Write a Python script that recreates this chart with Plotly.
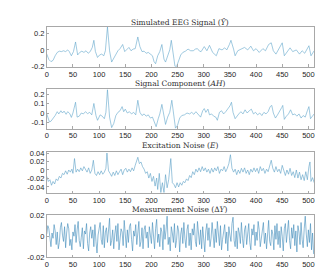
import plotly.graph_objects as go

# ---------------- data ----------------
y_hat_n = [0, 4, 8, 12, 16, 20, 24, 28, 32, 36, 40, 43, 47, 51, 55, 59, 63, 67, 71, 75, 79, 83, 87, 90, 93, 97,
           101, 105, 109, 112, 116, 120, 124, 128, 132, 136, 140, 145, 149, 153, 157, 161, 165, 169, 174, 178,
           182, 186, 190, 194, 198, 202, 205, 208, 212, 216, 220, 224, 227, 231, 235, 238, 242, 245, 248, 252,
           256, 260, 265, 270, 275, 280, 284, 288, 292, 295, 301, 306, 311, 317, 324, 329, 335, 340, 344, 349,
           352, 357, 360, 365, 371, 378, 384, 390, 395, 400, 406, 413, 418, 424, 429, 433, 438, 444, 450, 454,
           458, 465, 470, 477, 483, 488, 493, 499, 501, 505, 511]
y_hat_v = [-0.05, -0.115, -0.14, -0.125, -0.07, -0.03, -0.015, -0.02, -0.01, -0.02, 0.0, -0.02, -0.07, -0.02,
           0.095, -0.06, -0.03, -0.015, -0.03, -0.01, -0.04, -0.02, 0.03, 0.115, -0.02, -0.09, -0.06, -0.05,
           -0.07, -0.01, 0.275, -0.01, -0.145, -0.10, -0.04, -0.01, 0.015, 0.065, -0.02, 0.01, 0.03, -0.01,
           0.01, 0.015, 0.155, 0.04, -0.02, -0.015, -0.04, -0.03, -0.05, -0.07, -0.14, -0.165, -0.07, -0.02,
           0.065, -0.11, -0.145, -0.07, 0.0, 0.115, -0.09, -0.195, -0.2, -0.125, -0.06, -0.03, -0.015, 0.01,
           -0.01, -0.01, 0.01, 0.015, -0.015, -0.02, 0.04, -0.01, 0.055, -0.03, -0.07, 0.015, 0.0, 0.025, 0.0,
           0.065, 0.115, 0.01, -0.07, -0.01, 0.01, 0.03, 0.0, 0.045, -0.01, 0.015, -0.03, 0.015, -0.01, 0.065,
           0.085, -0.01, -0.05, 0.01, 0.085, -0.07, -0.03, 0.025, -0.02, 0.0, -0.05, -0.01, -0.04, 0.025, 0.05,
           -0.07, -0.01]

ah_n = [0, 5, 8, 12, 16, 20, 23, 27, 30, 33, 37, 40, 44, 47, 50, 55, 58, 62, 66, 70, 74, 78, 82, 86, 90, 94, 97,
        102, 106, 110, 113, 116, 120, 124, 128, 132, 136, 140, 144, 147, 150, 154, 158, 162, 166, 170, 174, 178,
        182, 186, 190, 194, 198, 202, 206, 209, 213, 216, 220, 224, 227, 231, 235, 239, 243, 246, 250, 254, 258,
        263, 268, 273, 277, 281, 285, 290, 294, 298, 301, 304, 308, 311, 315, 319, 323, 326, 330, 334, 338, 342,
        346, 350, 353, 356, 360, 363, 367, 371, 375, 379, 383, 387, 391, 395, 399, 403, 407, 411, 415, 419, 423,
        427, 430, 433, 437, 441, 445, 449, 451, 454, 458, 462, 466, 470, 474, 478, 482, 486, 490, 494, 498, 501,
        504, 507, 511]
ah_v = [-0.01, -0.095, -0.088, -0.061, -0.027, 0.014, -0.01, 0.024, 0.0, 0.02, -0.014, 0.014, -0.007, -0.047, 0.0,
        0.115, -0.044, -0.034, 0.0, -0.01, 0.014, -0.007, 0.007, -0.02, 0.102, -0.027, -0.078, -0.02, -0.034,
        -0.061, 0.007, 0.25, -0.044, -0.156, -0.112, -0.027, 0.007, 0.024, 0.068, 0.014, 0.041, 0.0, 0.014,
        -0.01, 0.007, -0.02, 0.136, 0.007, -0.027, -0.01, -0.034, -0.02, -0.054, -0.044, -0.095, -0.146, -0.061,
        -0.01, 0.092, -0.061, -0.122, -0.044, 0.007, 0.136, -0.078, -0.163, -0.129, -0.054, -0.027, -0.02, 0.0,
        -0.01, 0.007, -0.014, 0.014, -0.02, -0.044, 0.024, 0.047, 0.007, 0.041, -0.02, -0.01, -0.034, -0.044,
        -0.078, 0.007, 0.024, -0.01, 0.014, 0.041, 0.075, 0.115, 0.007, -0.061, -0.034, -0.01, 0.014, -0.01,
        0.034, 0.0, 0.024, 0.041, -0.01, 0.007, -0.02, 0.0, -0.027, 0.007, -0.01, 0.014, 0.068, 0.081, 0.0,
        -0.054, -0.02, 0.014, 0.058, 0.081, -0.068, -0.034, -0.01, 0.034, -0.02, -0.01, -0.034, -0.01, -0.054,
        -0.027, -0.044, 0.024, 0.068, -0.061, -0.034, -0.01]

e_n = [0, 3, 6, 9, 12, 15, 18, 21, 24, 27, 30, 33, 36, 39, 42, 45, 48, 50, 53, 56, 59, 62, 65, 68, 71, 74, 77, 80,
       83, 86, 89, 92, 95, 98, 101, 104, 107, 110, 113, 115, 118, 121, 124, 127, 130, 133, 136, 139, 142, 145, 148,
       151, 154, 157, 160, 163, 166, 169, 172, 174, 177, 180, 183, 186, 189, 192, 195, 198, 201, 204, 207, 210,
       212, 215, 218, 221, 224, 227, 230, 233, 237, 240, 243, 246, 249, 252, 255, 258, 261, 264, 267, 270, 273,
       276, 279, 282, 285, 288, 291, 294, 297, 300, 303, 306, 309, 312, 315, 318, 321, 324, 327, 330, 333, 336,
       339, 342, 345, 348, 351, 354, 357, 360, 363, 366, 369, 372, 375, 378, 381, 384, 387, 390, 393, 396, 399,
       402, 405, 408, 411, 414, 417, 420, 423, 426, 429, 432, 435, 438, 441, 444, 447, 450, 453, 456, 459, 462,
       465, 468, 471, 474, 477, 480, 483, 486, 489, 492, 495, 498, 501, 503, 505, 508, 511]
e_v = [-0.015, -0.027, -0.023, -0.036, -0.027, -0.033, -0.021, -0.025, -0.015, -0.019, -0.008, -0.011, -0.002,
       -0.010, 0.0, -0.005, 0.002, -0.008, 0.027, -0.005, 0.002, -0.004, 0.005, -0.002, 0.008, 0.0, -0.005, 0.005,
       -0.008, 0.0, 0.023, -0.008, -0.013, -0.004, -0.011, -0.002, -0.010, -0.005, 0.004, 0.040, -0.002, -0.008,
       -0.015, -0.005, -0.013, -0.002, -0.011, -0.004, 0.002, -0.011, 0.0, 0.004, -0.005, 0.002, -0.004, 0.005,
       -0.002, 0.011, 0.027, 0.030, 0.015, 0.019, 0.008, 0.002, -0.008, -0.004, -0.019, -0.008, -0.027, -0.015,
       -0.038, -0.019, -0.046, -0.008, -0.053, -0.030, -0.053, -0.011, -0.042, -0.023, 0.027, -0.030, -0.034,
       -0.042, -0.030, -0.040, -0.030, -0.036, -0.027, -0.030, -0.021, -0.025, -0.013, -0.018, -0.004, -0.011,
       0.002, -0.005, 0.005, -0.004, 0.008, -0.002, 0.005, -0.005, 0.002, -0.008, 0.004, -0.005, 0.005, -0.002,
       0.008, -0.008, 0.002, -0.002, 0.008, -0.004, 0.004, 0.015, 0.036, 0.004, -0.005, 0.002, -0.011, 0.0,
       -0.008, 0.004, -0.005, 0.005, -0.008, 0.0, -0.011, 0.002, -0.005, 0.005, -0.004, 0.004, -0.008, 0.008,
       -0.002, 0.004, -0.008, 0.002, -0.004, 0.011, 0.023, 0.004, -0.005, 0.008, -0.004, 0.002, -0.008, 0.011,
       -0.002, -0.013, 0.0, -0.010, 0.004, -0.013, -0.004, -0.018, 0.0, -0.019, -0.005, -0.023, -0.011, -0.025,
       -0.004, -0.023, 0.008, 0.019, -0.027, -0.018, -0.030]

dy_v = [0.002, 0.010, 0.007, -0.004, -0.010, 0.003, -0.002, 0.011, 0.005, -0.008, 0.004, -0.012, -0.006, 0.008, 0.013, 0.001,
        -0.005, 0.009, -0.011, 0.003, 0.012, 0.007, -0.009, -0.003, -0.013, 0.004, 0.000, 0.011, -0.006, 0.006, 0.014, -0.004,
        -0.010, -0.001, 0.008, -0.012, 0.005, 0.002, 0.012, -0.007, -0.014, 0.003, 0.009, -0.002, 0.006, -0.010, 0.011, -0.005,
        -0.016, 0.001, 0.007, 0.013, -0.003, -0.008, 0.010, -0.011, 0.004, 0.008, -0.006, 0.003, 0.017, -0.009, -0.004, 0.006,
        -0.012, 0.002, 0.010, -0.005, 0.012, -0.013, -0.002, 0.007, 0.004, -0.009, 0.015, 0.001, -0.011, 0.006, -0.006, 0.009,
        0.012, -0.003, -0.014, 0.005, 0.000, 0.011, -0.008, 0.003, 0.014, -0.010, -0.005, 0.008, -0.012, 0.006, 0.010, -0.002,
        0.004, -0.011, 0.009, 0.001, -0.007, 0.013, -0.004, -0.012, 0.007, 0.016, -0.006, 0.002, -0.010, 0.008, 0.004, -0.013,
        0.011, -0.003, 0.006, 0.019, -0.008, -0.001, -0.014, 0.009, 0.003, -0.006, 0.012, -0.011, -0.004, 0.010, 0.005, -0.015,
        0.002, 0.008, -0.007, 0.013, -0.002, -0.011, 0.006, 0.011, -0.009, 0.003, -0.013, 0.007, 0.001, 0.012, -0.005, -0.010,
        0.014, 0.004, -0.008, 0.006, -0.012, 0.009, 0.000, -0.015, 0.005, 0.012, -0.004, 0.008, -0.010, -0.002, 0.013, 0.003,
        -0.011, 0.007, -0.006, 0.014, 0.002, -0.009, 0.010, -0.013, -0.003, 0.006, 0.011, -0.007, 0.004, -0.014, 0.009, 0.001,
        -0.005, 0.012, 0.018, -0.004, -0.010, 0.005, -0.012, 0.008, 0.003, -0.007, 0.013, -0.002, -0.011, 0.006, 0.010, -0.008,
        0.002, 0.012, -0.006, -0.013, 0.007, 0.001, 0.011, -0.009, 0.004, -0.004, 0.014, 0.006, -0.010, -0.001, 0.009, 0.013,
        -0.007, 0.003, -0.012, 0.008, 0.015, -0.005, -0.009, 0.006, 0.002, -0.013, 0.010, -0.003, 0.012, -0.008, 0.005, -0.011,
        0.009, 0.000, -0.014, 0.007, 0.012, -0.006, 0.003, 0.015, -0.004, -0.012, 0.008, -0.002, 0.011, -0.009, 0.005, -0.015,
        0.010, 0.004, -0.008, 0.013, -0.003, -0.011, 0.007, 0.019, 0.002, -0.010, 0.006, -0.006, 0.012, -0.013, 0.003, -0.017]
dy_n = list(range(0, 512, 2))[:len(dy_v)]
dy_v = dy_v[:len(dy_n)]

titles = ["Simulated EEG Signal (<i>Ŷ</i>)", "Signal Component (<i>AH</i>)",
          "Excitation Noise (<i>E</i>)", "Measurement Noise (Δ<i>Y</i>)"]
x_ticks = [0, 50, 100, 150, 200, 250, 300, 350, 400, 450, 500]
y_ticks = [[-0.2, 0, 0.2], [-0.1, 0, 0.1, 0.2], [-0.04, -0.02, 0, 0.02, 0.04], [-0.02, 0, 0.02]]
y_ticktext = [["-0.2", "0", "0.2"], ["-0.1", "0", "0.1", "0.2"],
              ["-0.04", "-0.02", "0", "0.02", "0.04"], ["-0.02", "0", "0.02"]]
y_ranges = [[-0.2, 0.28], [-0.166, 0.252], [-0.054, 0.043], [-0.02, 0.02]]

# ---------------- figure ----------------
W, H = 330, 275
series = [(y_hat_n, y_hat_v), (ah_n, ah_v), (e_n, e_v), (dy_n, dy_v)]
dom_px = [(15, 56.5), (80, 120.5), (144.5, 187), (210, 253.5)]
title_px = [10.5, 74, 138.5, 204]
line_colors = ["#62a6cb", "#62a6cb", "#5a9fc6", "#3f8cbb"]
line_widths = [0.6, 0.6, 0.6, 0.6]

fig = go.Figure()
for i, (xs, ys) in enumerate(series):
    k = "" if i == 0 else str(i + 1)
    fig.add_trace(go.Scatter(x=xs, y=ys, mode="lines", xaxis="x" + k, yaxis="y" + k,
                             line=dict(color=line_colors[i], width=line_widths[i]), showlegend=False,
                             hoverinfo="skip"))
    top, bot = dom_px[i]
    axstyle = dict(showline=True, mirror=True, linecolor="#a8a8a8", linewidth=0.7,
                   ticks="inside", ticklen=2.5, tickcolor="#a8a8a8", tickwidth=0.7,
                   showgrid=False, zeroline=False,
                   tickfont=dict(family="Liberation Sans, Arial, sans-serif", size=7.5, color="#262626"))
    fig.update_layout(**{
        "xaxis" + k: dict(domain=[37 / W, 306 / W], range=[0, 511], tickvals=x_ticks,
                          anchor="y" + k, **axstyle),
        "yaxis" + k: dict(domain=[1 - bot / H, 1 - top / H], range=y_ranges[i],
                          tickvals=y_ticks[i], ticktext=y_ticktext[i], anchor="x" + k, **axstyle),
    })
    fig.add_annotation(text=titles[i], x=(37 + 306) / 2 / W, y=1 - title_px[i] / H,
                       xref="paper", yref="paper", showarrow=False, xanchor="center", yanchor="middle",
                       font=dict(family="DejaVu Serif, Liberation Serif, serif", size=7.5, color="#303030"))

fig.update_layout(width=W, height=H, margin=dict(l=0, r=0, t=0, b=0),
                  paper_bgcolor="white", plot_bgcolor="white")
fig.write_html("out.html")
